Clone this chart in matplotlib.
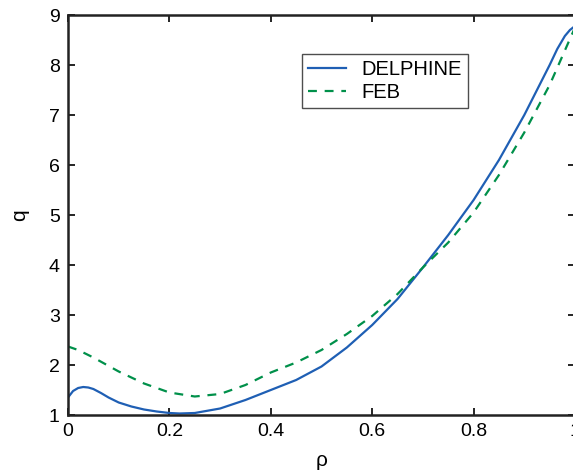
import matplotlib
matplotlib.use("Agg")
import matplotlib.pyplot as plt

plt.rcParams['font.family'] = ['Liberation Sans', 'DejaVu Sans']

# DELPHINE profile
rho_d = [0.0, 0.01, 0.02, 0.03, 0.04, 0.05, 0.065, 0.08, 0.1, 0.125, 0.15, 0.175, 0.2, 0.22, 0.25,
         0.3, 0.35, 0.4, 0.45, 0.5, 0.55, 0.6, 0.65, 0.7, 0.75, 0.8, 0.85, 0.9, 0.95, 0.965, 0.98,
         0.99, 1.0]
q_d = [1.35, 1.48, 1.54, 1.56, 1.55, 1.52, 1.44, 1.35, 1.25, 1.17, 1.11, 1.07, 1.04, 1.03, 1.04,
       1.13, 1.3, 1.5, 1.7, 1.97, 2.35, 2.8, 3.32, 3.95, 4.6, 5.3, 6.1, 7.0, 8.0, 8.32, 8.58,
       8.7, 8.78]

# FEB profile
rho_f = [0.0, 0.02, 0.05, 0.1, 0.15, 0.2, 0.25, 0.3, 0.35, 0.4, 0.45, 0.5, 0.55, 0.6,
         0.65, 0.7, 0.75, 0.8, 0.85, 0.9, 0.95, 1.0]
q_f = [2.37, 2.3, 2.15, 1.87, 1.63, 1.45, 1.37, 1.42, 1.6, 1.85, 2.05, 2.3, 2.62, 2.98,
       3.42, 3.95, 4.45, 5.05, 5.8, 6.65, 7.6, 8.75]

fig = plt.figure(figsize=(5.73, 4.70), dpi=100)
ax = fig.add_axes([68 / 573, 55 / 470, 507 / 573, 400 / 470])

ax.plot(rho_d, q_d, '-', color='#1f5fb4', lw=1.6, label='DELPHINE')
ax.plot(rho_f, q_f, '--', color='#00904a', lw=1.6, dashes=(4, 3.5), label='FEB')

ax.set_xlim(0, 1)
ax.set_ylim(1, 9)
ax.set_xticks([0, 0.2, 0.4, 0.6, 0.8, 1.0])
ax.set_xticklabels(['0', '0.2', '0.4', '0.6', '0.8', '1'])
ax.set_yticks(range(1, 10))
ax.tick_params(direction='in', top=True, right=True, labelsize=14, length=5, width=1.2, pad=6)
for s in ax.spines.values():
    s.set_linewidth(1.8)
    s.set_color('#222222')

ax.set_xlabel('ρ', fontsize=15, labelpad=8)
ax.set_ylabel('q', fontsize=15, labelpad=14)

leg = ax.legend(loc='upper left', bbox_to_anchor=(0.461, 0.903), borderaxespad=0, fontsize=14.5,
                frameon=True, fancybox=False, edgecolor='#222222', handlelength=1.9,
                handletextpad=0.75, borderpad=0.3, labelspacing=0.2)
leg.get_frame().set_linewidth(1.0)

fig.savefig('out.png', dpi=100)
